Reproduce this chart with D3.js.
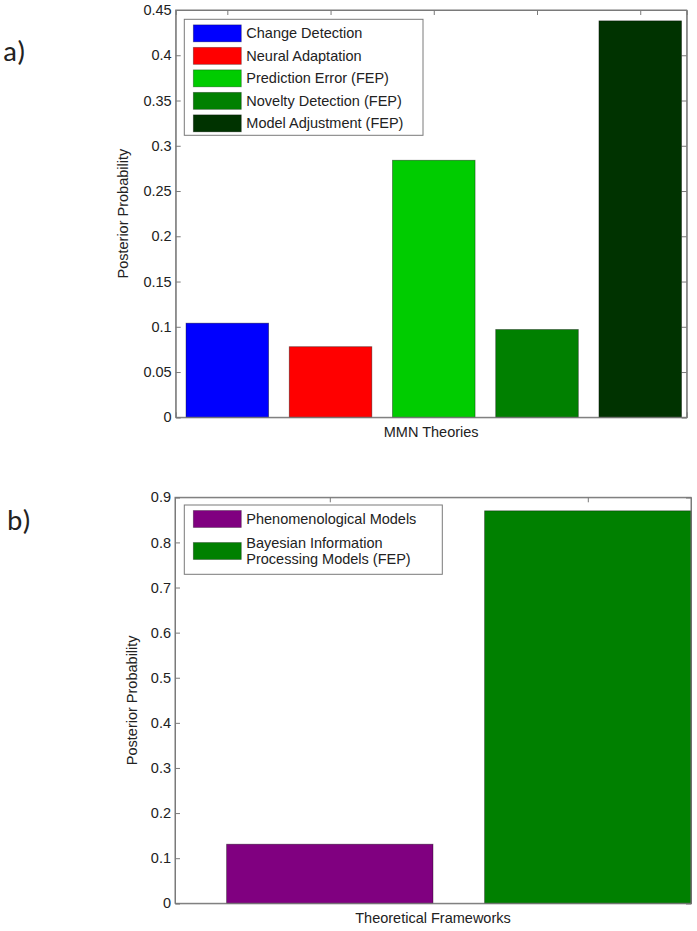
<!DOCTYPE html>
<html>
<head>
<meta charset="utf-8">
<script src="https://cdn.jsdelivr.net/npm/d3@7"></script>
<style>
	body { margin: 0; background: #fff; }
	svg text { font-family: "Liberation Sans", Arial, sans-serif; fill: #222; }
</style>
</head>
<body>
<div id="chart"></div>
<script>
// Panel a: MMN theories
var theories      = ["Change Detection", "Neural Adaptation", "Prediction Error (FEP)", "Novelty Detection (FEP)", "Model Adjustment (FEP)"];
var theoryValues  = [0.104, 0.078, 0.284, 0.097, 0.438];
var theoryColors  = ["#0000ff", "#ff0000", "#00cc00", "#008000", "#003300"];
var theoryTicks   = [0, 0.05, 0.1, 0.15, 0.2, 0.25, 0.3, 0.35, 0.4, 0.45];
var theoryLabels  = ["0", "0.05", "0.1", "0.15", "0.2", "0.25", "0.3", "0.35", "0.4", "0.45"];

// Panel b: theoretical frameworks
var frameworks      = [["Phenomenological Models"], ["Bayesian Information", "Processing Models (FEP)"]];
var frameworkValues = [0.131, 0.870];
var frameworkColors = ["#800080", "#008000"];
var frameworkTicks  = [0, 0.1, 0.2, 0.3, 0.4, 0.5, 0.6, 0.7, 0.8, 0.9];
var frameworkLabels = ["0", "0.1", "0.2", "0.3", "0.4", "0.5", "0.6", "0.7", "0.8", "0.9"];

var width = 697, height = 931;
var axis_color = "#7a7a7a";
var font_size  = 14.5;
var tick_len   = 5;

var svg = d3.select("#chart").append("svg")
	.attr("width", width)
	.attr("height", height);

svg.append("rect").attr("width", width).attr("height", height).attr("fill", "#fff");

function drawPanel(opt) {
	var x = d3.scaleLinear().domain(opt.xdomain).range([opt.left, opt.right]);
	var y = d3.scaleLinear().domain(opt.ydomain).range([opt.bottom, opt.top]);
	var positions = opt.values.map(function(d, i) { return i + 1; });
	var g = svg.append("g");

	// inward ticks on all four sides, MATLAB style
	var left = g.append("g")
		.attr("transform", "translate(" + opt.left + ",0)")
		.call(d3.axisLeft(y).tickValues(opt.ticks).tickSize(-tick_len).tickPadding(4)
			.tickFormat(function(d, i) { return opt.tickLabels[i]; }));
	var right = g.append("g")
		.attr("transform", "translate(" + opt.right + ",0)")
		.call(d3.axisRight(y).tickValues(opt.ticks).tickSize(-tick_len).tickFormat(""));
	var top = g.append("g")
		.attr("transform", "translate(0," + opt.top + ")")
		.call(d3.axisTop(x).tickValues(positions).tickSize(-tick_len).tickFormat(""));
	var bottom = g.append("g")
		.attr("transform", "translate(0," + opt.bottom + ")")
		.call(d3.axisBottom(x).tickValues(positions).tickSize(-tick_len).tickFormat(""));

	g.selectAll(".domain").attr("stroke", axis_color);
	g.selectAll(".tick line").attr("stroke", axis_color);
	left.selectAll("text").style("font-size", font_size + "px").attr("fill", "#222");

	// bars
	var bw = 0.8;
	g.append("g").selectAll("rect")
		.data(opt.values)
		.enter().append("rect")
		.attr("x", function(d, i) { return x(positions[i] - bw / 2); })
		.attr("width", function(d, i) { return x(positions[i] + bw / 2) - x(positions[i] - bw / 2); })
		.attr("y", function(d) { return y(d); })
		.attr("height", function(d) { return y(0) - y(d); })
		.attr("fill", function(d, i) { return opt.colors[i]; })
		.attr("stroke", "#000")
		.attr("stroke-opacity", 0.45)
		.attr("stroke-width", 0.8);

	// redraw the box edges on top of the bars
	g.append("rect")
		.attr("x", opt.left).attr("y", opt.top)
		.attr("width", opt.right - opt.left).attr("height", opt.bottom - opt.top)
		.attr("fill", "none").attr("stroke", axis_color).attr("stroke-width", 1);

	// axis titles
	g.append("text")
		.attr("transform", "translate(" + opt.ylabelX + "," + ((opt.top + opt.bottom) / 2) + ") rotate(-90)")
		.attr("text-anchor", "middle")
		.attr("dy", "0.35em")
		.style("font-size", font_size + "px")
		.text("Posterior Probability");
	g.append("text")
		.attr("x", (opt.left + opt.right) / 2)
		.attr("y", opt.bottom + 20)
		.attr("text-anchor", "middle")
		.style("font-size", font_size + "px")
		.text(opt.xlabel);

	// panel letter
	g.append("text")
		.attr("x", opt.letterX)
		.attr("y", opt.letterY)
		.style("font-family", "Carlito, Calibri, 'Open Sans', sans-serif")
		.style("font-size", "29px")
		.attr("fill", "#000")
		.text(opt.letter);

	// legend
	var lg = g.append("g");
	var lb = opt.legend;
	lg.append("rect")
		.attr("x", lb.x).attr("y", lb.y)
		.attr("width", lb.w).attr("height", lb.h)
		.attr("fill", "#fff").attr("stroke", axis_color);
	var rowY = lb.y + lb.pad;
	opt.names.forEach(function(name, i) {
		var lines = (typeof name === "string") ? [name] : name;
		var rowH = lb.rowH + (lines.length - 1) * lb.lineH;
		var cy = rowY + rowH / 2;
		lg.append("rect")
			.attr("x", lb.x + 9).attr("y", cy - 8.5)
			.attr("width", 48).attr("height", 17)
			.attr("fill", opt.colors[i])
			.attr("stroke", "#000").attr("stroke-opacity", 0.35).attr("stroke-width", 0.8);
		lines.forEach(function(t, j) {
			lg.append("text")
				.attr("x", lb.x + 62)
				.attr("y", cy + (j - (lines.length - 1) / 2) * lb.lineH)
				.attr("dy", "0.35em")
				.style("font-size", font_size + "px")
				.text(t);
		});
		rowY += rowH;
	});
}

drawPanel({
	values: theoryValues, colors: theoryColors, names: theories,
	ticks: theoryTicks, tickLabels: theoryLabels,
	xdomain: [0.5, 5.45], ydomain: [0, 0.45],
	left: 175.7, right: 686.7, top: 10, bottom: 417.3,
	ylabelX: 123, xlabel: "MMN Theories",
	letter: "a)", letterX: 3, letterY: 61,
	legend: { x: 184.3, y: 19.3, w: 238.7, h: 116, pad: 2.8, rowH: 22.5, lineH: 16 }
});

drawPanel({
	values: frameworkValues, colors: frameworkColors, names: frameworks,
	ticks: frameworkTicks, tickLabels: frameworkLabels,
	xdomain: [0.4, 2.4], ydomain: [0, 0.9],
	left: 175, right: 691, top: 497.3, bottom: 903.3,
	ylabelX: 132, xlabel: "Theoretical Frameworks",
	letter: "b)", letterX: 7, letterY: 530,
	legend: { x: 184.3, y: 505, w: 258, h: 69.3, pad: 2, rowH: 24, lineH: 16 }
});
</script>
</body>
</html>
